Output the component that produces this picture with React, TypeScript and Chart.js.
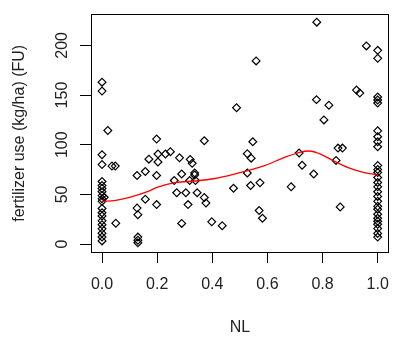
import { useEffect, useRef } from 'react';
import { Chart, registerables } from 'chart.js';

Chart.register(...registerables);

// Observations stacked at NL = 0
const zeroColumnFU = [163, 154, 90, 80, 63, 59, 56, 52.7, 48.8, 45.5, 43, 35.8, 31.5, 28.3, 23.4, 19.5, 15.3, 11, 7.1, 3.2];
// Observations stacked at NL = 1
const oneColumnFU = [195, 187, 148, 145, 142, 114, 108, 103, 98, 79, 75, 72, 67, 62, 57.6, 52.7, 48, 43, 38, 35, 30, 26, 23, 20, 15.6, 10.7, 7];
// Observations in between
const midNL = [
  0.021, 0.036, 0.048, 0.008, 0.05,
  0.127, 0.157, 0.198, 0.289, 0.336, 0.336,
  0.198, 0.371, 0.17, 0.203, 0.203, 0.23, 0.248, 0.281, 0.32, 0.327,
  0.262, 0.318, 0.339, 0.271, 0.304, 0.345, 0.371, 0.377, 0.312, 0.157, 0.198,
  0.127, 0.13, 0.289, 0.398, 0.436, 0.13, 0.13, 0.13,
  0.488, 0.477, 0.547, 0.527, 0.541, 0.527, 0.539, 0.573, 0.57, 0.582, 0.559,
  0.686, 0.715, 0.726, 0.768, 0.778, 0.779, 0.805, 0.823, 0.849, 0.856, 0.872, 0.864,
  0.923, 0.935, 0.959,
];
const midFU = [
  114.4, 78.5, 78.5, 47, 21,
  69, 73, 69, 70.5, 71.5, 69.6,
  105.7, 104, 85.5, 90.7, 82.6, 90.7, 93, 86.8, 85.2, 81.3,
  64, 64, 64, 51.7, 51.7, 51.7, 46.8, 41.3, 39.7, 45.2, 39.7,
  36.2, 29.6, 20.8, 22.4, 18.5, 7, 3.9, 1.3,
  137.3, 56.2, 103, 91, 86.5, 71.5, 59, 61.8, 33.8, 26, 184.4,
  57.6, 91.7, 79.3, 70.5, 145.4, 223.4, 125, 139.8, 84.2, 96.6, 96.6, 37.4,
  155, 152, 199.5,
];
// Smoothed (lowess) curve
const curveNL = [0, 0.05, 0.1, 0.165, 0.2, 0.27, 0.34, 0.41, 0.48, 0.59, 0.66, 0.717, 0.752, 0.788, 0.835, 0.893, 0.952, 1.0];
const curveFU = [43, 44, 47, 52.7, 57, 62, 63.5, 66, 70.5, 79, 87, 92.4, 93.7, 91, 84.6, 77, 72, 69.6];

const xTickValues = [0, 0.2, 0.4, 0.6, 0.8, 1.0];
const yTickValues = [0, 50, 100, 150, 200];
const xTitle = 'NL';
const yTitle = 'fertilizer use (kg/ha) (FU)';

const FONT = '"Liberation Sans", Arial, Helvetica, sans-serif';
const TEXT = '#222';

export default function App() {
  const ref = useRef<HTMLCanvasElement | null>(null);

  useEffect(() => {
    if (!ref.current) return;
    const points = [
      ...zeroColumnFU.map((y) => ({ x: 0, y })),
      ...midNL.map((x, i) => ({ x, y: midFU[i] })),
      ...oneColumnFU.map((y) => ({ x: 1, y })),
    ];
    const curve = curveNL.map((x, i) => ({ x, y: curveFU[i] }));

    const boxPlugin = {
      id: 'box',
      afterDraw(chart: any) {
        const { ctx, chartArea } = chart;
        ctx.save();
        ctx.strokeStyle = '#000';
        ctx.lineWidth = 1;
        const l = Math.round(chartArea.left) + 0.5;
        const t = Math.round(chartArea.top) + 0.5;
        const r = Math.round(chartArea.right) - 0.5;
        const b = Math.round(chartArea.bottom) - 0.5;
        ctx.strokeRect(l, t, r - l, b - t);
        ctx.restore();
      },
    };

    const chart = new Chart(ref.current, {
      type: 'scatter',
      data: {
        datasets: [
          {
            type: 'line',
            data: curve,
            borderColor: '#ff0000',
            borderWidth: 1.3,
            pointRadius: 0,
            fill: false,
            cubicInterpolationMode: 'monotone',
          } as any,
          {
            data: points,
            pointStyle: 'rectRot',
            pointRadius: 3.9,
            borderColor: '#000',
            backgroundColor: 'rgba(0,0,0,0)',
            pointBorderWidth: 1.2,
          } as any,
        ],
      },
      options: {
        animation: false,
        responsive: false,
        maintainAspectRatio: false,
        layout: { padding: { left: 0, top: 6, right: 4, bottom: 0 } },
        plugins: { legend: { display: false }, tooltip: { enabled: false } },
        scales: {
          x: {
            type: 'linear',
            min: -0.04,
            max: 1.04,
            afterBuildTicks: (s: any) => {
              s.ticks = xTickValues.map((v) => ({ value: v }));
            },
            afterFit: (s: any) => {
              s.height = 89;
            },
            ticks: {
              callback: (v: any) => Number(v).toFixed(1),
              font: { family: FONT, size: 16 },
              color: TEXT,
              padding: 12,
              maxRotation: 0,
              autoSkip: false,
            },
            grid: { display: true, drawOnChartArea: false, drawTicks: true, tickLength: 10, color: '#000' },
            border: { display: false },
            title: {
              display: true,
              text: xTitle,
              font: { family: FONT, size: 16 },
              color: TEXT,
              padding: { top: 0, bottom: 5 },
            },
          },
          y: {
            type: 'linear',
            min: -9,
            max: 232,
            afterBuildTicks: (s: any) => {
              s.ticks = yTickValues.map((v) => ({ value: v }));
            },
            afterFit: (s: any) => {
              s.width = 91;
            },
            ticks: {
              callback: (v: any) => String(v),
              font: { family: FONT, size: 16 },
              color: TEXT,
              padding: 4,
              minRotation: 90,
              maxRotation: 90,
              crossAlign: 'center',
              autoSkip: false,
            },
            grid: { display: true, drawOnChartArea: false, drawTicks: true, tickLength: 11, color: '#000' },
            border: { display: false },
            title: {
              display: true,
              text: yTitle,
              font: { family: FONT, size: 16 },
              color: TEXT,
              padding: { top: 10, bottom: 0 },
            },
          },
        },
      } as any,
      plugins: [boxPlugin],
    });
    return () => chart.destroy();
  }, []);

  return (
    <div style={{ position: 'absolute', left: 0, top: 0, width: 401, height: 342, background: '#fff' }}>
      <canvas ref={ref} width={401} height={342} style={{ width: 401, height: 342, display: 'block' }} />
    </div>
  );
}
